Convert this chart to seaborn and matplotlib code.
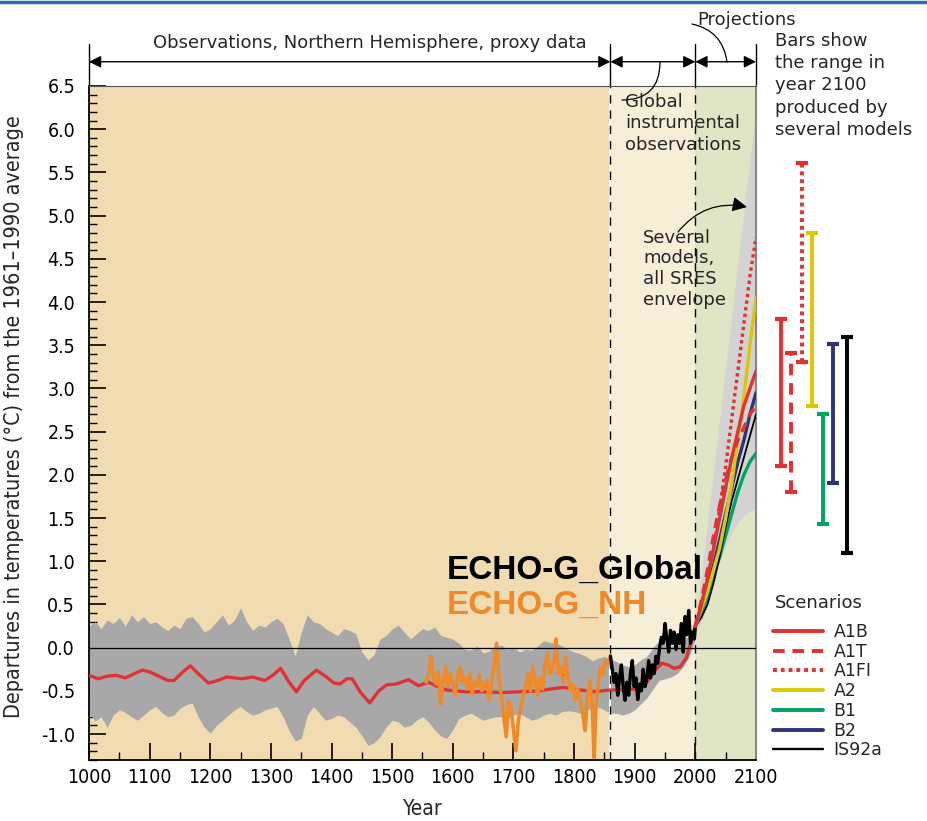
import numpy as np
import pandas as pd
import matplotlib
matplotlib.use("Agg")
import matplotlib.pyplot as plt
import seaborn as sns
from matplotlib.lines import Line2D
from matplotlib.ticker import MultipleLocator, FormatStrFormatter

# ---- data ------------------------------------------------------------------
band_years = list(range(1000, 2001, 10))
band_upper = [0.25, 0.30, 0.22, 0.32, 0.28, 0.35, 0.25, 0.38, 0.30, 0.36,
              0.28, 0.30, 0.24, 0.20, 0.26, 0.22, 0.34, 0.36, 0.28, 0.18,
              0.22, 0.30, 0.38, 0.26, 0.32, 0.46, 0.30, 0.20, 0.26, 0.24,
              0.30, 0.34, 0.28, 0.10, -0.10, 0.18, 0.38, 0.30, 0.28, 0.22,
              0.18, 0.14, 0.22, 0.20, 0.16, -0.05, -0.14, -0.08, 0.10, 0.14,
              0.22, 0.26, 0.18, 0.10, 0.16, 0.22, 0.20, 0.24, 0.14, 0.12,
              0.10, 0.05, -0.02, -0.03, 0.02, -0.06, -0.04, 0.02, 0.03, -0.02,
              0.00, -0.05, -0.02, -0.03, 0.02, 0.08, 0.06, 0.05, 0.02, -0.02,
              -0.05, -0.07, -0.10, -0.15, -0.12, -0.10, -0.14, -0.16, -0.20, -0.22,
              -0.20, -0.14, -0.10, 0.00, 0.08, 0.04, 0.02, 0.03, 0.08, 0.15, 0.30]
band_lower = [-0.76, -0.85, -0.80, -0.92, -0.78, -0.72, -0.75, -0.80, -0.84, -0.78,
              -0.72, -0.68, -0.75, -0.80, -0.78, -0.70, -0.66, -0.64, -0.80, -0.92,
              -0.99, -0.90, -0.84, -0.78, -0.72, -0.68, -0.74, -0.78, -0.76, -0.72,
              -0.70, -0.68, -0.80, -0.96, -1.08, -1.05, -0.78, -0.68, -0.76, -0.84,
              -0.82, -0.78, -0.80, -0.86, -0.92, -1.02, -1.13, -1.10, -1.03, -0.92,
              -0.84, -0.86, -0.92, -0.90, -0.84, -0.80, -0.86, -0.95, -1.02, -1.05,
              -0.95, -0.82, -0.78, -0.76, -0.80, -0.84, -0.82, -0.80, -0.80, -0.82,
              -0.78, -0.76, -0.80, -0.84, -0.82, -0.78, -0.76, -0.78, -0.74, -0.73,
              -0.74, -0.76, -0.72, -0.70, -0.69, -0.72, -0.76, -0.76, -0.78, -0.76,
              -0.72, -0.65, -0.58, -0.48, -0.38, -0.36, -0.34, -0.30, -0.22, -0.10, 0.10]

smooth_years = [1000, 1015, 1030, 1045, 1060, 1075, 1088, 1100, 1115, 1130, 1140,
                1155, 1167, 1180, 1197, 1212, 1227, 1240, 1252, 1270, 1290, 1303,
                1316, 1330, 1342, 1355, 1375, 1390, 1404, 1414, 1425, 1434, 1448,
                1463, 1478, 1491, 1507, 1527, 1543, 1560, 1575, 1590, 1620, 1650,
                1680, 1711, 1740, 1760, 1782, 1800, 1832, 1860, 1880, 1900, 1920,
                1935, 1945, 1955, 1965, 1975, 1985, 1995, 2000]
smooth_temp = [-0.32, -0.36, -0.33, -0.32, -0.35, -0.30, -0.26, -0.28, -0.33, -0.38, -0.38,
               -0.28, -0.21, -0.30, -0.41, -0.38, -0.34, -0.35, -0.36, -0.34, -0.38, -0.32,
               -0.24, -0.40, -0.51, -0.38, -0.26, -0.33, -0.41, -0.42, -0.36, -0.36, -0.52,
               -0.64, -0.50, -0.43, -0.42, -0.37, -0.44, -0.40, -0.45, -0.49, -0.51, -0.51,
               -0.52, -0.51, -0.50, -0.48, -0.46, -0.48, -0.51, -0.49, -0.49, -0.48, -0.40,
               -0.25, -0.18, -0.20, -0.24, -0.22, -0.12, 0.12, 0.25]

nh_years = [1556, 1560, 1564, 1568, 1572, 1576, 1580, 1584, 1588, 1592, 1596, 1600,
            1604, 1608, 1612, 1616, 1620, 1624, 1628, 1632, 1636, 1640, 1644, 1648,
            1652, 1656, 1660, 1664, 1668, 1672, 1676, 1680, 1684, 1688, 1692, 1696,
            1700, 1704, 1708, 1712, 1716, 1720, 1724, 1728, 1732, 1736, 1740, 1744,
            1748, 1752, 1756, 1760, 1764, 1768, 1770, 1774, 1778, 1782, 1786, 1790,
            1794, 1798, 1802, 1806, 1810, 1814, 1818, 1822, 1826, 1830, 1833, 1836,
            1840, 1844, 1848, 1852, 1856, 1860]
nh_temp = [-0.40, -0.30, -0.10, -0.35, -0.42, -0.28, -0.65, -0.38, -0.22, -0.45, -0.30, -0.42,
           -0.55, -0.32, -0.22, -0.40, -0.35, -0.48, -0.30, -0.53, -0.40, -0.45, -0.32, -0.50,
           -0.44, -0.38, -0.60, -0.42, -0.20, 0.05, -0.35, -0.55, -0.80, -1.03, -0.62, -0.70,
           -0.95, -1.19, -0.84, -0.70, -0.55, -0.46, -0.30, -0.50, -0.22, -0.40, -0.55, -0.35,
           -0.48, -0.20, -0.07, -0.30, -0.26, -0.10, 0.10, -0.30, -0.22, -0.40, -0.11, -0.35,
           -0.50, -0.42, -0.60, -0.48, -0.61, -0.75, -0.96, -0.55, -0.38, -0.70, -1.27, -0.69,
           -0.40, -0.22, -0.30, -0.15, -0.20, -0.09]

glob_years = [1860, 1863, 1866, 1869, 1872, 1875, 1878, 1881, 1884, 1887, 1890, 1893,
              1896, 1899, 1902, 1905, 1908, 1911, 1914, 1917, 1920, 1923, 1926, 1929,
              1932, 1935, 1938, 1941, 1944, 1947, 1950, 1953, 1956, 1959, 1962, 1965,
              1968, 1971, 1974, 1977, 1980, 1983, 1986, 1989, 1992, 1995, 1998, 2000]
glob_temp = [-0.10, -0.25, -0.40, -0.30, -0.55, -0.35, -0.20, -0.45, -0.61, -0.40, -0.55, -0.30,
             -0.15, -0.45, -0.35, -0.60, -0.42, -0.50, -0.25, -0.45, -0.35, -0.15, -0.35, -0.20,
             -0.30, -0.10, -0.18, 0.00, 0.12, 0.05, 0.28, 0.10, -0.05, 0.20, 0.05, 0.18,
             -0.02, 0.15, 0.05, 0.28, -0.05, 0.36, 0.15, 0.43, 0.05, 0.18, 0.10, 0.25]

proj_years = [2000, 2010, 2020, 2030, 2040, 2050, 2060, 2070, 2080, 2090, 2100]
env_upper = [0.30, 0.85, 1.45, 2.05, 2.65, 3.25, 3.85, 4.45, 5.05, 5.65, 6.25]
env_lower = [0.20, 0.30, 0.50, 0.75, 0.98, 1.18, 1.33, 1.45, 1.53, 1.58, 1.62]
scenarios = ["A1B", "A1T", "A1FI", "A2", "B1", "B2", "IS92a"]
proj_A1B = [0.25, 0.50, 0.80, 1.15, 1.50, 1.85, 2.20, 2.50, 2.80, 3.00, 3.20]
proj_A1T = [0.25, 0.55, 0.90, 1.30, 1.65, 1.95, 2.20, 2.40, 2.55, 2.70, 2.80]
proj_A1FI = [0.25, 0.50, 0.80, 1.15, 1.60, 2.10, 2.65, 3.20, 3.75, 4.30, 4.75]
proj_A2 = [0.25, 0.45, 0.65, 0.90, 1.15, 1.50, 1.90, 2.40, 2.90, 3.50, 4.05]
proj_B1 = [0.25, 0.40, 0.60, 0.85, 1.05, 1.30, 1.55, 1.80, 2.00, 2.15, 2.25]
proj_B2 = [0.25, 0.45, 0.70, 0.95, 1.25, 1.55, 1.85, 2.15, 2.40, 2.70, 2.95]
proj_IS92a = [0.25, 0.35, 0.50, 0.75, 1.05, 1.40, 1.70, 1.95, 2.20, 2.45, 2.70]

range_low = [2.10, 1.80, 3.31, 2.80, 1.43, 1.91, 1.10]
range_high = [3.80, 3.41, 5.61, 4.80, 2.70, 3.51, 3.60]

# ---- styling ----------------------------------------------------------------
sns.set_style("white")
plt.rcParams["font.family"] = ["DejaVu Sans"]
plt.rcParams["axes.unicode_minus"] = False

colors = {"A1B": "#e03232", "A1T": "#e03232", "A1FI": "#e03232", "A2": "#dcc700",
          "B1": "#00a262", "B2": "#2f3479", "IS92a": "#000000"}
styles = {"A1B": "-", "A1T": (0, (3, 2)), "A1FI": (0, (1, 1)), "A2": "-",
          "B1": "-", "B2": "-", "IS92a": "-"}
widths = {"A1B": 2.4, "A1T": 2.4, "A1FI": 2.4, "A2": 2.4, "B1": 2.4, "B2": 2.4, "IS92a": 1.3}

fig = plt.figure(figsize=(9.28, 8.21), dpi=100)
ax = fig.add_axes([89 / 928, 61 / 821, 667 / 928, 674 / 821])
ax.set_xlim(1000, 2100)
ax.set_ylim(-1.3, 6.5)

ax.axvspan(1000, 1860, color="#f1dcb2", lw=0, zorder=0)
ax.axvspan(1860, 2000, color="#f7eed8", lw=0, zorder=0)
ax.axvspan(2000, 2100, color="#e0e5c5", lw=0, zorder=0)

ax.fill_between(band_years, band_lower, band_upper, color="#a8a8a8", lw=0, zorder=1)
ax.fill_between(proj_years, env_lower, env_upper, color="#d3d3d3", lw=0, zorder=1)

ax.axvline(1860, color="white", lw=1.5, zorder=2)
ax.axvline(1860, color="black", lw=1, ls=(0, (6, 5)), zorder=2)
ax.axvline(2000, color="black", lw=1, ls=(0, (6, 5)), zorder=2)

sns.lineplot(x=smooth_years, y=smooth_temp, color="#e03232", lw=2.4, ax=ax, zorder=3)
sns.lineplot(x=nh_years, y=nh_temp, color="#ee8a2a", lw=2.6, ax=ax, zorder=4)
sns.lineplot(x=glob_years, y=glob_temp, color="black", lw=2.4, ax=ax, zorder=4)
ax.axhline(0, color="black", lw=0.9, zorder=5)

proj = pd.DataFrame({"year": proj_years, "A1B": proj_A1B, "A1T": proj_A1T,
                     "A1FI": proj_A1FI, "A2": proj_A2, "B1": proj_B1,
                     "B2": proj_B2, "IS92a": proj_IS92a})
for name in ["B1", "IS92a", "B2", "A2", "A1T", "A1B", "A1FI"]:
    sns.lineplot(data=proj, x="year", y=name, color=colors[name], lw=widths[name],
                 ls=styles[name], ax=ax, zorder=6)

ax.text(1590, 0.89, "ECHO-G_Global", fontsize=24, fontweight="bold", color="black",
        family=["Liberation Sans", "DejaVu Sans"], va="center", ha="left", zorder=7)
ax.text(1590, 0.49, "ECHO-G_NH", fontsize=24, fontweight="bold", color="#ee8a2a",
        family=["Liberation Sans", "DejaVu Sans"], va="center", ha="left", zorder=7)
ax.text(1884, 6.42, "Global\ninstrumental\nobservations", fontsize=13, va="top",
        ha="left", linespacing=1.25, zorder=7)
ax.text(1914, 4.85, "Several\nmodels,\nall SRES\nenvelope", fontsize=13, va="top",
        ha="left", linespacing=1.2, zorder=7)

# axes, ticks
ax.xaxis.set_major_locator(MultipleLocator(100))
ax.xaxis.set_minor_locator(MultipleLocator(50))
ax.yaxis.set_minor_locator(MultipleLocator(0.1))
ax.yaxis.set_major_formatter(FormatStrFormatter("%.1f"))
ax.set_yticks(np.arange(-1.0, 6.51, 0.5))
ax.tick_params(which="both", left=True, bottom=True, top=False, right=False)
ax.tick_params(which="major", direction="in", length=12, width=1.2, labelsize=14,
               pad=6, color="black", labelcolor="black")
ax.tick_params(which="minor", direction="in", length=6, width=1.0, color="black")
ax.tick_params(axis="y", pad=10)
for lab in ax.get_xticklabels() + ax.get_yticklabels():
    lab.set_fontstretch("condensed")
for side in ["left", "bottom"]:
    ax.spines[side].set_color("black")
    ax.spines[side].set_linewidth(1.3)
ax.spines["top"].set_color("#555555")
ax.spines["right"].set_color("#888888")
ax.spines["right"].set_linewidth(1.5)

ax.set_xlabel("Year", fontsize=15, fontstretch="condensed")
ax.set_ylabel("Departures in temperatures (°C) from the 1961\u20131990 average",
              fontsize=15.5, fontstretch="condensed")
ax.xaxis.set_label_coords(0.5, -0.058)
ax.yaxis.set_label_coords(-0.098, 0.51)

# top arrows
xt = ax.get_xaxis_transform()
for x in [1000, 1860, 2000, 2100]:
    ax.plot([x, x], [1.0, 1.062], transform=xt, color="black", lw=1, clip_on=False)
for a, b in [(1000, 1860), (1860, 2000), (2000, 2100)]:
    ax.annotate("", xy=(a, 1.036), xytext=(b, 1.036), xycoords=xt, textcoords=xt,
                annotation_clip=False,
                arrowprops=dict(arrowstyle="<|-|>", color="black", lw=1,
                                mutation_scale=18, shrinkA=0, shrinkB=0))
ax.text(1463, 1.064, "Observations, Northern Hemisphere, proxy data", transform=xt,
        fontsize=13, ha="center", va="center")
fig.text(697 / 928, 1 - 20 / 821, "Projections", fontsize=13, ha="left", va="center")
ax.annotate("", xy=(727, 821 - 62), xytext=(692, 821 - 24), xycoords="figure pixels",
            textcoords="figure pixels", annotation_clip=False,
            arrowprops=dict(arrowstyle="-", color="black", lw=0.9,
                            connectionstyle="arc3,rad=-0.35", shrinkA=0, shrinkB=0))
ax.annotate("", xy=(622, 821 - 100), xytext=(660, 821 - 62), xycoords="figure pixels",
            textcoords="figure pixels", annotation_clip=False,
            arrowprops=dict(arrowstyle="-", color="black", lw=0.9,
                            connectionstyle="arc3,rad=-0.5", shrinkA=0, shrinkB=0))
ax.annotate("", xy=(747, 821 - 207), xytext=(678, 821 - 232), xycoords="figure pixels",
            textcoords="figure pixels", annotation_clip=False,
            arrowprops=dict(arrowstyle="-|>", color="black", lw=0.9, mutation_scale=22,
                            connectionstyle="arc3,rad=-0.3", shrinkA=0, shrinkB=0))

fig.text(775 / 928, 1 - 32 / 821,
         "Bars show\nthe range in\nyear 2100\nproduced by\nseveral models",
         fontsize=13, ha="left", va="top", linespacing=1.3)

# range bars
ax2 = fig.add_axes([770 / 928, 61 / 821, 90 / 928, 674 / 821])
ax2.set_xlim(-1.06, 7.6)
ax2.set_ylim(-1.3, 6.5)
ax2.axis("off")
bar_pos = np.arange(len(scenarios)) + np.array([0, 0, 0, 0, 0, 0, 0.35])
for i, name in enumerate(scenarios):
    ax2.vlines(bar_pos[i], range_low[i], range_high[i], color=colors[name],
               lw=2.8, ls=styles[name])
    ax2.scatter([bar_pos[i]] * 2, [range_low[i], range_high[i]], marker="_", s=70,
                color=colors[name], linewidths=3)

fig.text(775 / 928, 1 - 603 / 821, "Scenarios", fontsize=13, ha="left", va="center")
handles = [Line2D([0], [0], color=colors[n], lw=widths[n] + 0.4, ls=styles[n]) for n in scenarios]
leg = fig.legend(handles, scenarios, loc="upper left",
                 bbox_to_anchor=(766 / 928, 1 - 616 / 821), frameon=False, fontsize=12.5,
                 handlelength=2.9, handletextpad=0.6, labelspacing=0.1,
                 borderaxespad=0)

fig.add_artist(Line2D([0, 1], [1 - 2 / 821, 1 - 2 / 821], color="#2b6cb5", lw=2.5))

fig.savefig("out.png", dpi=100)
